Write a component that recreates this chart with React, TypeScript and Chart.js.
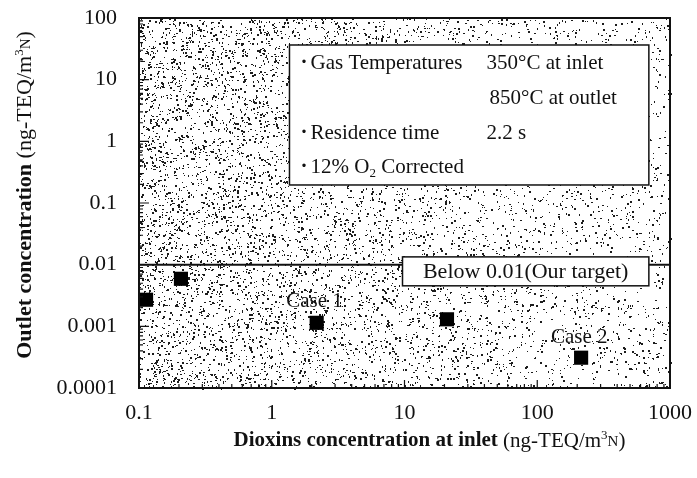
import React, { useEffect, useRef } from "react";
import { Chart, registerables } from "chart.js";

Chart.register(...registerables);

// ---- data ----
const inletConc = [0.113, 0.207, 2.18, 20.9, 214];
const outletConc = [0.0027, 0.0059, 0.00114, 0.0013, 0.00031];
const targetLevel = 0.01;
const xRange = [0.1, 1000];
const yRange = [0.0001, 100];
const xTickLabels = ["0.1", "1", "10", "100", "1000"];
const yTickLabels = ["0.0001", "0.001", "0.01", "0.1", "1", "10", "100"];
const caseNames = ["Case 1", "Case 2"];
const caseX = [2.1, 207];
const caseY = [0.0025, 0.00066];
const targetText = "Below 0.01(Our target)";
const infoBoxX = [1.36, 693];
const infoBoxY = [36.5, 0.196];
const targetBoxX = [9.66, 693];
const targetBoxY = [0.01337, 0.00454];

const SERIF = "'Liberation Serif', 'DejaVu Serif', serif";

type Seg = { t: string; f: string; dy?: number };

function drawSegs(ctx: CanvasRenderingContext2D, segs: Seg[], cx: number, cy: number) {
  let total = 0;
  for (const s of segs) {
    ctx.font = s.f;
    total += ctx.measureText(s.t).width;
  }
  let x = cx - total / 2;
  ctx.textAlign = "left";
  ctx.textBaseline = "middle";
  for (const s of segs) {
    ctx.font = s.f;
    ctx.fillText(s.t, x, cy + (s.dy || 0));
    x += ctx.measureText(s.t).width;
  }
}

function drawLeftSegs(ctx: CanvasRenderingContext2D, segs: Seg[], x0: number, cy: number) {
  let x = x0;
  ctx.textAlign = "left";
  ctx.textBaseline = "middle";
  for (const s of segs) {
    ctx.font = s.f;
    ctx.fillText(s.t, x, cy + (s.dy || 0));
    x += ctx.measureText(s.t).width;
  }
}

const stipple = {
  id: "stipple",
  beforeDatasetsDraw(chart: any) {
    const { ctx, chartArea: a } = chart;
    ctx.save();
    ctx.fillStyle = "#fff";
    ctx.fillRect(a.left, a.top, a.right - a.left, a.bottom - a.top);
    let s = 987654321;
    const rnd = () => {
      s = (Math.imul(s, 1664525) + 1013904223) >>> 0;
      return s / 4294967296;
    };
    const w = a.right - a.left;
    const h = a.bottom - a.top;
    const n = Math.round(w * h * 0.07);
    ctx.fillStyle = "#1c1c1c";
    for (let i = 0; i < n; i++) {
      const fx = rnd();
      const fy = rnd();
      const dens = 0.3 + 0.7 * (1 - fx) * (1 - fx * 0.4);
      if (rnd() > dens) continue;
      const x = Math.round(a.left + fx * w);
      const y = Math.round(a.top + fy * h);
      const k = rnd();
      if (k < 0.4) ctx.fillRect(x, y, 1, 1);
      else if (k < 0.6) ctx.fillRect(x, y, 2, 1);
      else if (k < 0.8) ctx.fillRect(x, y, 1, 2);
      else ctx.fillRect(x, y, 2, 2);
    }
    ctx.restore();
  },
};

const overlay = {
  id: "overlay",
  afterDatasetsDraw(chart: any) {
    const { ctx, chartArea: a, scales } = chart;
    const xs = scales.x;
    const ys = scales.y;
    ctx.save();
    ctx.fillStyle = "#111";
    ctx.strokeStyle = "#111";

    const box = (bx: number[], by: number[]) => {
      const l = xs.getPixelForValue(bx[0]);
      const r = xs.getPixelForValue(bx[1]);
      const t = ys.getPixelForValue(by[0]);
      const b = ys.getPixelForValue(by[1]);
      ctx.fillStyle = "#fff";
      ctx.fillRect(l, t, r - l, b - t);
      ctx.lineWidth = 1.5;
      ctx.strokeRect(l, t, r - l, b - t);
      ctx.fillStyle = "#111";
      return { l, r, t, b };
    };

    const ib = box(infoBoxX, infoBoxY);
    const F = `21px ${SERIF}`;
    const FS = `13px ${SERIF}`;
    const FB = `bold 21px ${SERIF}`;
    const bx = ib.l + 11;
    const tx = ib.l + 21;
    const cx2 = ib.l + 197;
    drawLeftSegs(ctx, [{ t: "·", f: FB }], bx, ib.t + 18);
    drawLeftSegs(ctx, [{ t: "Gas Temperatures", f: F }], tx, ib.t + 18);
    drawLeftSegs(ctx, [{ t: "350°C at inlet", f: F }], cx2, ib.t + 18);
    drawLeftSegs(ctx, [{ t: "850°C at outlet", f: F }], cx2 + 3, ib.t + 53);
    drawLeftSegs(ctx, [{ t: "·", f: FB }], bx, ib.t + 88);
    drawLeftSegs(ctx, [{ t: "Residence time", f: F }], tx, ib.t + 88);
    drawLeftSegs(ctx, [{ t: "2.2 s", f: F }], cx2, ib.t + 88);
    drawLeftSegs(ctx, [{ t: "·", f: FB }], bx, ib.t + 122);
    drawLeftSegs(
      ctx,
      [
        { t: "12% O", f: F },
        { t: "2", f: FS, dy: 7 },
        { t: " Corrected", f: F },
      ],
      tx,
      ib.t + 122
    );

    const tb = box(targetBoxX, targetBoxY);
    drawSegs(ctx, [{ t: targetText, f: `22px ${SERIF}` }], (tb.l + tb.r) / 2, (tb.t + tb.b) / 2 + 1);

    for (let i = 0; i < caseNames.length; i++) {
      drawSegs(
        ctx,
        [{ t: caseNames[i], f: `21px ${SERIF}` }],
        xs.getPixelForValue(caseX[i]),
        ys.getPixelForValue(caseY[i])
      );
    }

    // inward ticks
    ctx.lineWidth = 1.2;
    ctx.beginPath();
    for (let e = Math.log10(xRange[0]); e < Math.log10(xRange[1]) + 0.01; e++) {
      const base = Math.pow(10, Math.round(e));
      for (let d = 1; d <= 9; d++) {
        const v = base * d;
        if (v > xRange[1] * 1.0001) break;
        const px = xs.getPixelForValue(v);
        const len = d === 1 ? 8 : 4;
        ctx.moveTo(px, a.bottom);
        ctx.lineTo(px, a.bottom - len);
      }
    }
    for (let e = Math.log10(yRange[0]); e < Math.log10(yRange[1]) + 0.01; e++) {
      const base = Math.pow(10, Math.round(e));
      for (let d = 1; d <= 9; d++) {
        const v = base * d;
        if (v > yRange[1] * 1.0001) break;
        const py = ys.getPixelForValue(v);
        const len = d === 1 ? 10 : 4;
        ctx.moveTo(a.left, py);
        ctx.lineTo(a.left + len, py);
      }
    }
    ctx.stroke();

    ctx.lineWidth = 2;
    ctx.strokeRect(a.left, a.top, a.right - a.left, a.bottom - a.top);

    // axis titles
    ctx.fillStyle = "#111";
    drawSegs(
      ctx,
      [
        { t: "Dioxins concentration at inlet ", f: `bold 21px ${SERIF}` },
        { t: "(ng-TEQ/m", f: `21px ${SERIF}` },
        { t: "3", f: `13px ${SERIF}`, dy: -5 },
        { t: "N", f: `15px ${SERIF}`, dy: 1 },
        { t: ")", f: `21px ${SERIF}` },
      ],
      (a.left + a.right) / 2 + 25,
      441
    );
    ctx.save();
    ctx.translate(25, 195);
    ctx.rotate(-Math.PI / 2);
    drawSegs(
      ctx,
      [
        { t: "Outlet concentration ", f: `bold 22px ${SERIF}` },
        { t: "(ng-TEQ/m", f: `22px ${SERIF}` },
        { t: "3", f: `13px ${SERIF}`, dy: -5 },
        { t: "N", f: `15px ${SERIF}`, dy: 1 },
        { t: ")", f: `22px ${SERIF}` },
      ],
      0,
      0
    );
    ctx.restore();
    ctx.restore();
  },
};

export default function App() {
  const ref = useRef<HTMLCanvasElement | null>(null);
  useEffect(() => {
    if (!ref.current) return;
    const points = inletConc.map((x, i) => ({ x, y: outletConc[i] }));
    const chart = new Chart(ref.current, {
      type: "scatter",
      data: {
        datasets: [
          {
            type: "line",
            data: [
              { x: xRange[0], y: targetLevel },
              { x: xRange[1], y: targetLevel },
            ],
            borderColor: "#111",
            borderWidth: 2,
            pointRadius: 0,
            fill: false,
          } as any,
          {
            data: points,
            backgroundColor: "#000",
            borderColor: "#000",
            borderWidth: 0,
            pointStyle: "rect",
            pointRadius: 10,
          },
        ],
      },
      options: {
        animation: false,
        responsive: false,
        devicePixelRatio: 1,
        layout: { padding: { top: 18, right: 27, left: 0, bottom: 0 } },
        plugins: { legend: { display: false }, tooltip: { enabled: false } },
        scales: {
          x: {
            type: "logarithmic",
            min: xRange[0],
            max: xRange[1],
            grid: { display: false, drawTicks: false },
            border: { display: false },
            afterFit: (s: any) => {
              s.height = 90;
              s.paddingLeft = 0;
              s.paddingRight = 0;
            },
            afterBuildTicks: (s: any) => {
              s.ticks = xTickLabels.map((l) => ({ value: Number(l) }));
            },
            ticks: {
              autoSkip: false,
              maxRotation: 0,
              padding: 12,
              color: "#111",
              font: { family: SERIF, size: 22 },
              callback: (v: any) => {
                const l = xTickLabels.find((t) => Math.abs(Number(t) - v) / v < 1e-6);
                return l ?? "";
              },
            },
          },
          y: {
            type: "logarithmic",
            min: yRange[0],
            max: yRange[1],
            grid: { display: false, drawTicks: false },
            border: { display: false },
            afterFit: (s: any) => {
              s.width = 139;
              s.paddingTop = 0;
              s.paddingBottom = 0;
            },
            afterBuildTicks: (s: any) => {
              s.ticks = yTickLabels.map((l) => ({ value: Number(l) }));
            },
            ticks: {
              autoSkip: false,
              padding: 22,
              color: "#111",
              font: { family: SERIF, size: 22 },
              callback: (v: any) => {
                const l = yTickLabels.find((t) => Math.abs(Number(t) - v) / v < 1e-6);
                return l ?? "";
              },
            },
          },
        },
      },
      plugins: [stipple, overlay],
    });
    return () => chart.destroy();
  }, []);
  return (
    <div style={{ position: "fixed", left: 0, top: 0, width: 697, height: 478, background: "#fff" }}>
      <canvas ref={ref} width={697} height={478} />
    </div>
  );
}
